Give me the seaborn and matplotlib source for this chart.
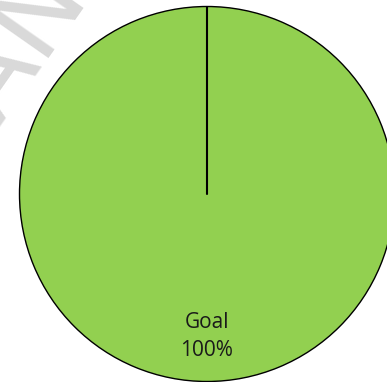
import matplotlib
matplotlib.use('Agg')
import matplotlib.pyplot as plt
import seaborn as sns

labels = ['Goal']
values = [100]
colors = ['#92d050']

sns.set_style('white')
plt.rcParams['font.family'] = ['Open Sans', 'DejaVu Sans']

fig = plt.figure(figsize=(3.87, 3.82), dpi=100)

# faint watermark fragment at top left
fig.text(0.05, 0.88, 'AN', color='#d9d9d9', fontsize=80, rotation=55,
         ha='center', va='center', family='DejaVu Sans', zorder=0)

# axes box sized so the circle is centred at (207,194) px, radius ~187 px
ax = fig.add_axes([19.5 / 387, 0.5 / 382, 375 / 387, 375 / 382])
ax.patch.set_alpha(0)

pct = [v / sum(values) * 100 for v in values]
lbls = [f'{l}\n{p:.0f}%' for l, p in zip(labels, pct)]

wedges, texts = ax.pie(values, labels=lbls, colors=colors, startangle=90,
                       counterclock=False, labeldistance=0.76,
                       wedgeprops={'edgecolor': 'black', 'linewidth': 1.0},
                       textprops={'ha': 'center', 'va': 'center', 'fontsize': 15,
                                  'linespacing': 1.4, 'color': '#1a1a1a'})

# radial edge from the centre to the slice start
ax.plot([0, 0], [0, 1], color='black', lw=1.5)

ax.set_xlim(-1, 1)
ax.set_ylim(-1, 1)
ax.set_axis_off()

fig.savefig('out.png', dpi=100)
